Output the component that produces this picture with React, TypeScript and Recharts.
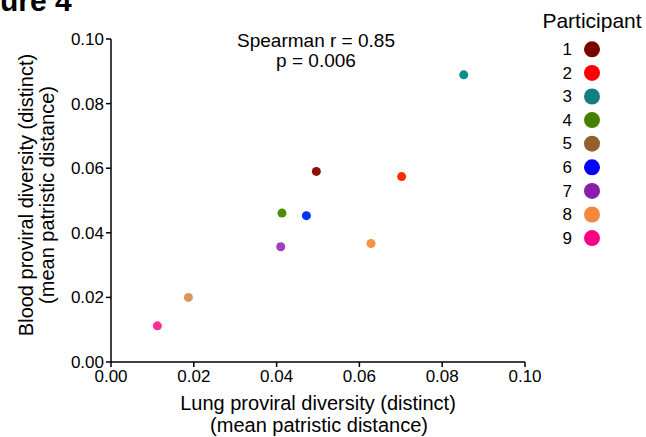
import React from 'react';
import { ScatterChart, Scatter, XAxis, YAxis, ZAxis, Cell } from 'recharts';

const participants = ['1', '2', '3', '4', '5', '6', '7', '8', '9'];
const lungDiversity = [0.0496, 0.0702, 0.0852, 0.0413, 0.0187, 0.0472, 0.041, 0.0628, 0.0112];
const bloodDiversity = [0.059, 0.0574, 0.0889, 0.0461, 0.02, 0.0453, 0.0357, 0.0367, 0.0112];
const pointColors = ['#8B1204', '#FF2A00', '#0E8C8C', '#4C8C00', '#D9975A', '#0033FF', '#A040C0', '#F5924A', '#FF3090'];
const legendColors = ['#7B0000', '#FF0000', '#127F7F', '#467F00', '#94602E', '#0000FF', '#8A1EAA', '#F5883A', '#FF0080'];
const xTicks = [0, 0.02, 0.04, 0.06, 0.08, 0.1];
const yTicks = [0, 0.02, 0.04, 0.06, 0.08, 0.1];

const data = participants.map((p, i) => ({ participant: p, x: lungDiversity[i], y: bloodDiversity[i] }));

const FONT = 'Arial, "Liberation Sans", Helvetica, sans-serif';

export default function App() {
  return (
    <div style={{ position: 'absolute', left: 0, top: 0, width: 646, height: 437, background: '#fff', fontFamily: FONT }}>
      <ScatterChart width={646} height={437} margin={{ top: 39, right: 121, bottom: 35, left: 51 }}>
        <XAxis
          type="number"
          dataKey="x"
          domain={[0, 0.1]}
          ticks={xTicks}
          tickFormatter={(v: number) => v.toFixed(2)}
          height={40}
          axisLine={{ stroke: '#000', strokeWidth: 1.5 }}
          tickLine={{ stroke: '#000', strokeWidth: 1.5 }}
          tickSize={5}
          tick={{ fill: '#000', fontSize: 17, fontFamily: FONT, dy: 1 }}
          interval={0}
          allowDataOverflow
        />
        <YAxis
          type="number"
          dataKey="y"
          domain={[0, 0.1]}
          ticks={yTicks}
          tickFormatter={(v: number) => v.toFixed(2)}
          width={60}
          axisLine={{ stroke: '#000', strokeWidth: 1.5 }}
          tickLine={{ stroke: '#000', strokeWidth: 1.5 }}
          tickSize={5}
          tick={{ fill: '#000', fontSize: 17, fontFamily: FONT }}
          interval={0}
          allowDataOverflow
        />
        <ZAxis range={[80, 80]} />
        <Scatter data={data} isAnimationActive={false} shape="circle">
          {data.map((d, i) => (
            <Cell key={d.participant} fill={pointColors[i]} />
          ))}
        </Scatter>
      </ScatterChart>
      <svg width={646} height={437} style={{ position: 'absolute', left: 0, top: 0, pointerEvents: 'none' }}>
        <text x={-45} y={11} fontSize={30} fontWeight="bold" fontFamily={FONT} fill="#000">Figure 4</text>
        <text x={316} y={47} fontSize={19} textAnchor="middle" fontFamily={FONT} fill="#000">Spearman r = 0.85</text>
        <text x={316} y={67} fontSize={19} textAnchor="middle" fontFamily={FONT} fill="#000">p = 0.006</text>
        <text x={318} y={410} fontSize={20} textAnchor="middle" fontFamily={FONT} fill="#000">Lung proviral diversity (distinct)</text>
        <text x={319} y={432} fontSize={20} textAnchor="middle" fontFamily={FONT} fill="#000">(mean patristic distance)</text>
        <g transform="translate(33,195) rotate(-90)">
          <text x={0} y={0} fontSize={20} textAnchor="middle" fontFamily={FONT} fill="#000">Blood proviral diversity (distinct)</text>
          <text x={0} y={21} fontSize={20} textAnchor="middle" fontFamily={FONT} fill="#000">(mean patristic distance)</text>
        </g>
        <text x={592} y={28} fontSize={21} textAnchor="middle" fontFamily={FONT} fill="#000">Participant</text>
        {participants.map((p, i) => (
          <g key={p}>
            <text x={572} y={55 + i * 23.6} fontSize={17} textAnchor="end" fontFamily={FONT} fill="#000">{p}</text>
            <circle cx={592} cy={49.3 + i * 23.6} r={8} fill={legendColors[i]} />
          </g>
        ))}
      </svg>
    </div>
  );
}
